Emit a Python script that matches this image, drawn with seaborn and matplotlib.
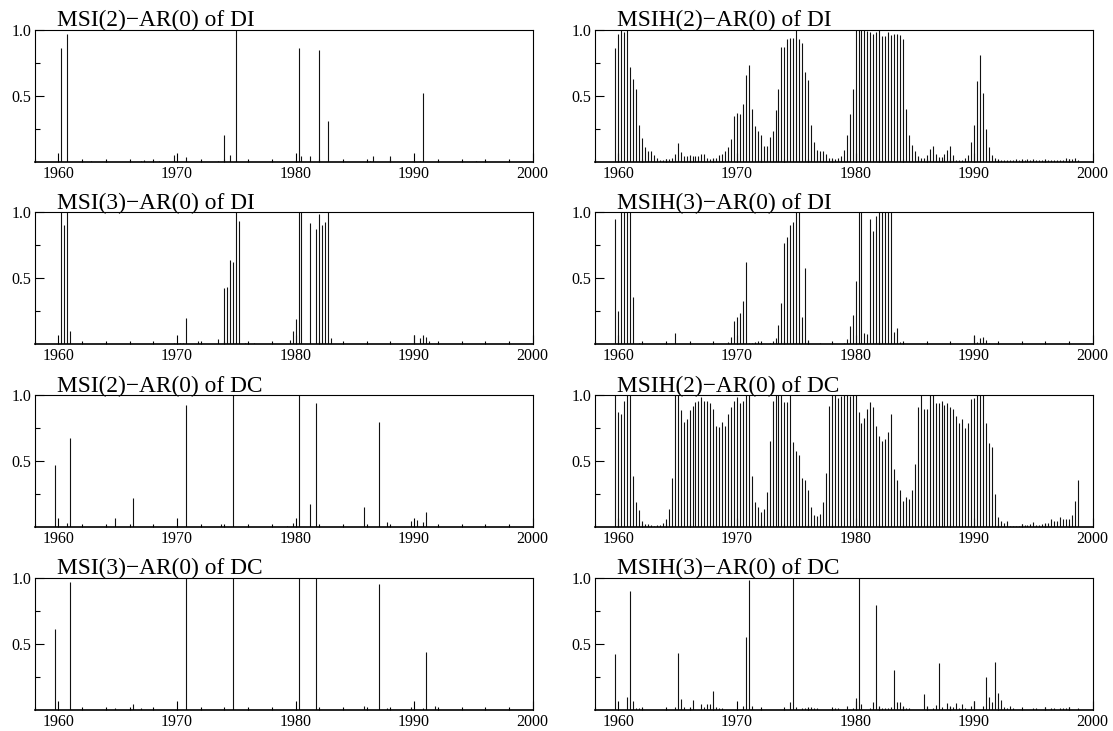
import numpy as np
import pandas as pd
import matplotlib
matplotlib.use("Agg")
import matplotlib.pyplot as plt
import seaborn as sns
from matplotlib.ticker import FixedLocator, MultipleLocator

# quarterly sample 1959Q4 .. 1998Q4, plotted at year + (quarter-1)/4
quarters = pd.period_range("1959Q4", "1998Q4", freq="Q")
quarter_years = np.asarray(quarters.year + (quarters.quarter - 1) / 4, dtype=float)

# dense series (one value per quarter)
msih2_di = [
    0.86,
    0.97, 1.0, 0.98, 1.0,
    0.72, 0.63, 0.55, 0.28,
    0.18, 0.11, 0.08, 0.08,
    0.05, 0.025, 0.01, 0.015,
    0.02, 0.02, 0.03, 0.06,
    0.14, 0.07, 0.04, 0.04,
    0.05, 0.04, 0.04, 0.04,
    0.06, 0.06, 0.025, 0.02,
    0.03, 0.03, 0.05, 0.06,
    0.08, 0.11, 0.17, 0.35,
    0.37, 0.36, 0.44, 0.66,
    0.73, 0.40, 0.27, 0.23,
    0.20, 0.12, 0.12, 0.19,
    0.23, 0.39, 0.55, 0.87,
    0.87, 0.93, 0.94, 0.94,
    1.0, 0.93, 0.90, 0.68,
    0.62, 0.28, 0.15, 0.09,
    0.08, 0.08, 0.055, 0.03,
    0.025, 0.02, 0.025, 0.04,
    0.09, 0.20, 0.36, 0.55,
    1.0, 1.0, 1.0, 1.0,
    0.99, 0.98, 0.97, 0.98,
    1.0, 0.95, 0.95, 0.98,
    0.96, 0.965, 0.965, 0.96,
    0.93, 0.40, 0.20, 0.13,
    0.08, 0.04, 0.03, 0.03,
    0.05, 0.10, 0.12, 0.06,
    0.035, 0.035, 0.055, 0.09,
    0.12, 0.05, 0.015, 0.015,
    0.015, 0.025, 0.05, 0.15,
    0.28, 0.61, 0.81, 0.52,
    0.245, 0.11, 0.05, 0.03,
    0.015, 0.01, 0.01, 0.01,
    0.01, 0.015, 0.02, 0.015,
    0.015, 0.015, 0.018, 0.015,
    0.02, 0.01, 0.01, 0.01,
    0.01, 0.012, 0.012, 0.01,
    0.012, 0.012, 0.015, 0.025,
    0.02, 0.02, 0.03, 0.01,
]

msih2_dc = [
    1.0,
    0.875, 0.86, 0.96, 1.0,
    1.0, 0.39, 0.19, 0.13,
    0.05, 0.025, 0.025, 0.02,
    0.013, 0.015, 0.02, 0.03,
    0.065, 0.14, 0.375, 1.0,
    1.0, 0.89, 0.80, 0.82,
    0.89, 0.92, 0.95, 0.96,
    0.99, 0.96, 0.96, 0.94,
    0.90, 0.77, 0.76, 0.80,
    0.77, 0.855, 0.91, 0.96,
    0.985, 0.94, 0.96, 1.0,
    1.0, 0.39, 0.195, 0.15,
    0.115, 0.14, 0.27, 0.655,
    0.96, 1.0, 1.0, 1.0,
    0.95, 0.95, 1.0, 0.65,
    0.58, 0.55, 0.37, 0.36,
    0.28, 0.15, 0.09, 0.085,
    0.10, 0.195, 0.41, 0.92,
    1.0, 1.0, 0.98, 0.995,
    1.0, 1.0, 0.995, 1.0,
    1.0, 0.87, 0.79, 0.825,
    0.90, 0.95, 0.91, 0.77,
    0.69, 0.655, 0.67, 0.72,
    0.86, 0.44, 0.36, 0.28,
    0.20, 0.23, 0.215, 0.285,
    0.48, 0.91, 1.0, 0.90,
    0.90, 1.0, 1.0, 0.94,
    0.94, 0.96, 0.93, 0.94,
    0.91, 0.90, 0.84, 0.79,
    0.82, 0.75, 0.79, 0.97,
    0.98, 1.0, 1.0, 1.0,
    0.79, 0.635, 0.61, 0.25,
    0.075, 0.05, 0.035, 0.045,
    0.013, 0.013, 0.013, 0.013,
    0.025, 0.02, 0.02, 0.025,
    0.04, 0.02, 0.02, 0.025,
    0.03, 0.03, 0.065, 0.045,
    0.045, 0.075, 0.065, 0.06,
    0.06, 0.09, 0.20, 0.355,
]

# sparse series: only the quarters with a visible probability
msi2_di_dates = [1960.25, 1960.75, 1962.75, 1967.0, 1967.25, 1968.5, 1969.75, 1970.75,
                 1973.5, 1974.0, 1974.5, 1975.0, 1980.25, 1980.5, 1981.25, 1982.0,
                 1982.75, 1986.25, 1986.5, 1988.0, 1990.5, 1990.75, 1995.25]
msi2_di_probs = [0.865, 0.965, 0.005, 0.005, 0.01, 0.005, 0.05, 0.035,
                 0.005, 0.20, 0.05, 1.0, 0.865, 0.04, 0.045, 0.845,
                 0.31, 0.005, 0.04, 0.045, 0.005, 0.52, 0.005]

msi3_di_dates = [1960.25, 1960.5, 1960.75, 1961.0, 1969.75, 1970.25, 1970.5, 1970.75,
                 1971.75, 1973.5, 1974.0, 1974.25, 1974.5, 1974.75, 1975.0, 1975.25,
                 1975.75, 1976.5, 1979.5, 1979.75, 1980.0, 1980.25, 1980.5, 1981.25,
                 1981.75, 1982.0, 1982.25, 1982.5, 1982.75, 1983.0, 1990.0, 1990.5,
                 1990.75, 1991.0, 1991.25]
msi3_di_probs = [1.0, 0.9, 1.0, 0.10, 0.01, 0.01, 0.01, 0.20,
                 0.025, 0.04, 0.43, 0.435, 0.64, 0.62, 1.0, 0.935,
                 0.01, 0.01, 0.035, 0.10, 0.19, 1.0, 1.0, 0.92,
                 0.87, 0.985, 0.90, 0.93, 1.0, 0.05, 0.07, 0.045,
                 0.07, 0.055, 0.025]

msih3_di_dates = [1959.75, 1960.0, 1960.25, 1960.5, 1960.75, 1961.0, 1961.25, 1961.75,
                  1964.75, 1969.25, 1969.5, 1969.75, 1970.0, 1970.25, 1970.5, 1970.75,
                  1971.0, 1971.25, 1971.5, 1971.75, 1972.75, 1973.0, 1973.25, 1973.5,
                  1973.75, 1974.0, 1974.25, 1974.5, 1974.75, 1975.0, 1975.25, 1975.5,
                  1975.75, 1976.0, 1977.0, 1979.0, 1979.25, 1979.5, 1979.75, 1980.0,
                  1980.25, 1980.5, 1980.75, 1981.0, 1981.25, 1981.5, 1981.75, 1982.0,
                  1982.25, 1982.5, 1982.75, 1983.0, 1983.25, 1983.5, 1983.75, 1984.0,
                  1990.0, 1990.25, 1990.5, 1990.75, 1991.0, 1991.25]
msih3_di_probs = [0.95, 0.25, 1.0, 1.0, 1.0, 1.0, 0.36, 0.01,
                  0.085, 0.02, 0.055, 0.18, 0.21, 0.24, 0.33, 0.62,
                  0.01, 0.01, 0.015, 0.025, 0.01, 0.025, 0.05, 0.15,
                  0.31, 0.77, 0.81, 0.90, 0.93, 1.0, 1.0, 0.21,
                  0.58, 0.03, 0.01, 0.01, 0.04, 0.14, 0.22, 0.48,
                  1.0, 1.0, 0.085, 0.075, 0.95, 0.86, 0.97, 1.0,
                  1.0, 1.0, 1.0, 1.0, 0.09, 0.12, 0.02, 0.01,
                  0.065, 0.02, 0.045, 0.055, 0.035, 0.01]

msi2_dc_dates = [1959.75, 1960.75, 1961.0, 1964.75, 1966.25, 1967.0, 1970.75, 1973.75,
                 1974.75, 1979.25, 1979.75, 1980.25, 1981.25, 1981.75, 1985.75, 1987.0,
                 1987.75, 1989.75, 1990.25, 1990.75, 1991.0]
msi2_dc_probs = [0.47, 0.03, 0.68, 0.07, 0.22, 0.005, 0.925, 0.025,
                 1.0, 0.01, 0.035, 1.0, 0.18, 0.94, 0.15, 0.80,
                 0.04, 0.05, 0.055, 0.04, 0.115]

msi3_dc_dates = [1959.75, 1961.0, 1964.75, 1966.25, 1967.0, 1970.75, 1974.75, 1980.25,
                 1981.75, 1985.75, 1987.0, 1987.75, 1989.75, 1990.75, 1991.0, 1991.75]
msi3_dc_probs = [0.61, 0.965, 0.01, 0.04, 0.01, 1.0, 1.0, 1.0,
                 1.0, 0.025, 0.95, 0.01, 0.02, 0.015, 0.44, 0.025]

msih3_dc_dates = [1959.75, 1960.75, 1961.0, 1961.25, 1961.5, 1961.75, 1962.0, 1964.75,
                  1965.0, 1965.25, 1965.5, 1966.0, 1966.25, 1967.0, 1967.25, 1967.5,
                  1967.75, 1968.0, 1968.25, 1968.5, 1968.75, 1970.5, 1970.75, 1971.0,
                  1971.25, 1974.5, 1974.75, 1975.0, 1975.5, 1975.75, 1976.0, 1976.25,
                  1976.5, 1976.75, 1978.25, 1978.5, 1979.25, 1979.75, 1980.0, 1980.25,
                  1980.5, 1981.25, 1981.5, 1981.75, 1982.0, 1982.25, 1982.5, 1982.75,
                  1983.0, 1983.25, 1983.5, 1983.75, 1984.0, 1984.25, 1984.5, 1985.75,
                  1986.0, 1986.5, 1986.75, 1987.0, 1987.25, 1987.75, 1988.0, 1988.25,
                  1988.5, 1988.75, 1989.0, 1989.25, 1989.75, 1990.0, 1990.75, 1991.0,
                  1991.25, 1991.5, 1991.75, 1992.0, 1992.25, 1992.5, 1992.75, 1993.0,
                  1993.25, 1995.0, 1995.25, 1996.0, 1996.5, 1996.75, 1997.25, 1997.5,
                  1997.75, 1998.0, 1998.75]
msih3_dc_probs = [0.42, 0.095, 0.90, 0.065, 0.015, 0.015, 0.01, 0.02,
                  0.43, 0.08, 0.02, 0.01, 0.075, 0.04, 0.02, 0.04,
                  0.045, 0.14, 0.02, 0.01, 0.015, 0.03, 0.55, 0.98,
                  0.03, 0.06, 1.0, 0.02, 0.01, 0.01, 0.01, 0.02,
                  0.015, 0.01, 0.01, 0.015, 0.03, 0.015, 0.085, 1.0,
                  0.045, 0.01, 0.055, 0.79, 0.03, 0.015, 0.015, 0.015,
                  0.02, 0.30, 0.06, 0.055, 0.03, 0.01, 0.01, 0.12,
                  0.03, 0.015, 0.035, 0.355, 0.02, 0.05, 0.03, 0.02,
                  0.05, 0.015, 0.045, 0.01, 0.03, 0.065, 0.03, 0.25,
                  0.095, 0.06, 0.365, 0.125, 0.075, 0.02, 0.01, 0.025,
                  0.01, 0.01, 0.01, 0.02, 0.01, 0.01, 0.015, 0.015,
                  0.01, 0.02, 0.01]

titles = [
    ["MSI(2)\u2212AR(0) of DI", "MSIH(2)\u2212AR(0) of DI"],
    ["MSI(3)\u2212AR(0) of DI", "MSIH(3)\u2212AR(0) of DI"],
    ["MSI(2)\u2212AR(0) of DC", "MSIH(2)\u2212AR(0) of DC"],
    ["MSI(3)\u2212AR(0) of DC", "MSIH(3)\u2212AR(0) of DC"],
]
series = [
    [(msi2_di_dates, msi2_di_probs), (quarter_years, msih2_di)],
    [(msi3_di_dates, msi3_di_probs), (msih3_di_dates, msih3_di_probs)],
    [(msi2_dc_dates, msi2_dc_probs), (quarter_years, msih2_dc)],
    [(msi3_dc_dates, msi3_dc_probs), (msih3_dc_dates, msih3_dc_probs)],
]
year_ticks = [1960, 1970, 1980, 1990, 2000]

sns.set_style("ticks", {"xtick.direction": "in", "ytick.direction": "in",
                        "axes.edgecolor": "black"})
plt.rcParams["font.family"] = ["Liberation Serif", "DejaVu Serif"]

fig = plt.figure(figsize=(11.13, 7.31), dpi=100)
W, H = 1113, 731
col_left = [34.7, 594.7]
row_top = [29.7, 212.3, 395.3, 577.7]
ax_w, ax_h = 498, 132

for r in range(4):
    for c in range(2):
        ax = fig.add_axes([col_left[c] / W, 1 - (row_top[r] + ax_h) / H, ax_w / W, ax_h / H])
        x, y = series[r][c]
        ax.vlines(x, 0, y, colors="#111111", linewidth=0.8)
        ax.set_xlim(1958, 2000)
        ax.set_ylim(0, 1)
        ax.set_xticks(year_ticks)
        ax.set_xticklabels([str(t) for t in year_ticks])
        ax.xaxis.set_minor_locator(MultipleLocator(2))
        ax.set_yticks([0.5, 1.0])
        ax.set_yticklabels(["0.5", "1.0"])
        ax.yaxis.set_minor_locator(FixedLocator([0.25, 0.75]))
        ax.tick_params(axis="both", which="major", length=6.2, width=0.8, labelsize=11.5,
                       color="black", labelcolor="black")
        ax.tick_params(axis="x", which="major", pad=3)
        ax.tick_params(axis="y", which="major", pad=2.5)
        ax.tick_params(axis="x", which="minor", length=2.4, width=0.8, color="black")
        ax.tick_params(axis="y", which="minor", length=3.8, width=0.8, color="black")
        ax.tick_params(top=False, right=False, which="both")
        for side in ["top", "left", "right"]:
            ax.spines[side].set_linewidth(0.8)
        ax.spines["bottom"].set_linewidth(1.2)
        ax.text(0.045, 1.026, titles[r][c], transform=ax.transAxes, fontsize=16.8,
                ha="left", va="baseline", color="black")

fig.savefig("out.png", dpi=100)
